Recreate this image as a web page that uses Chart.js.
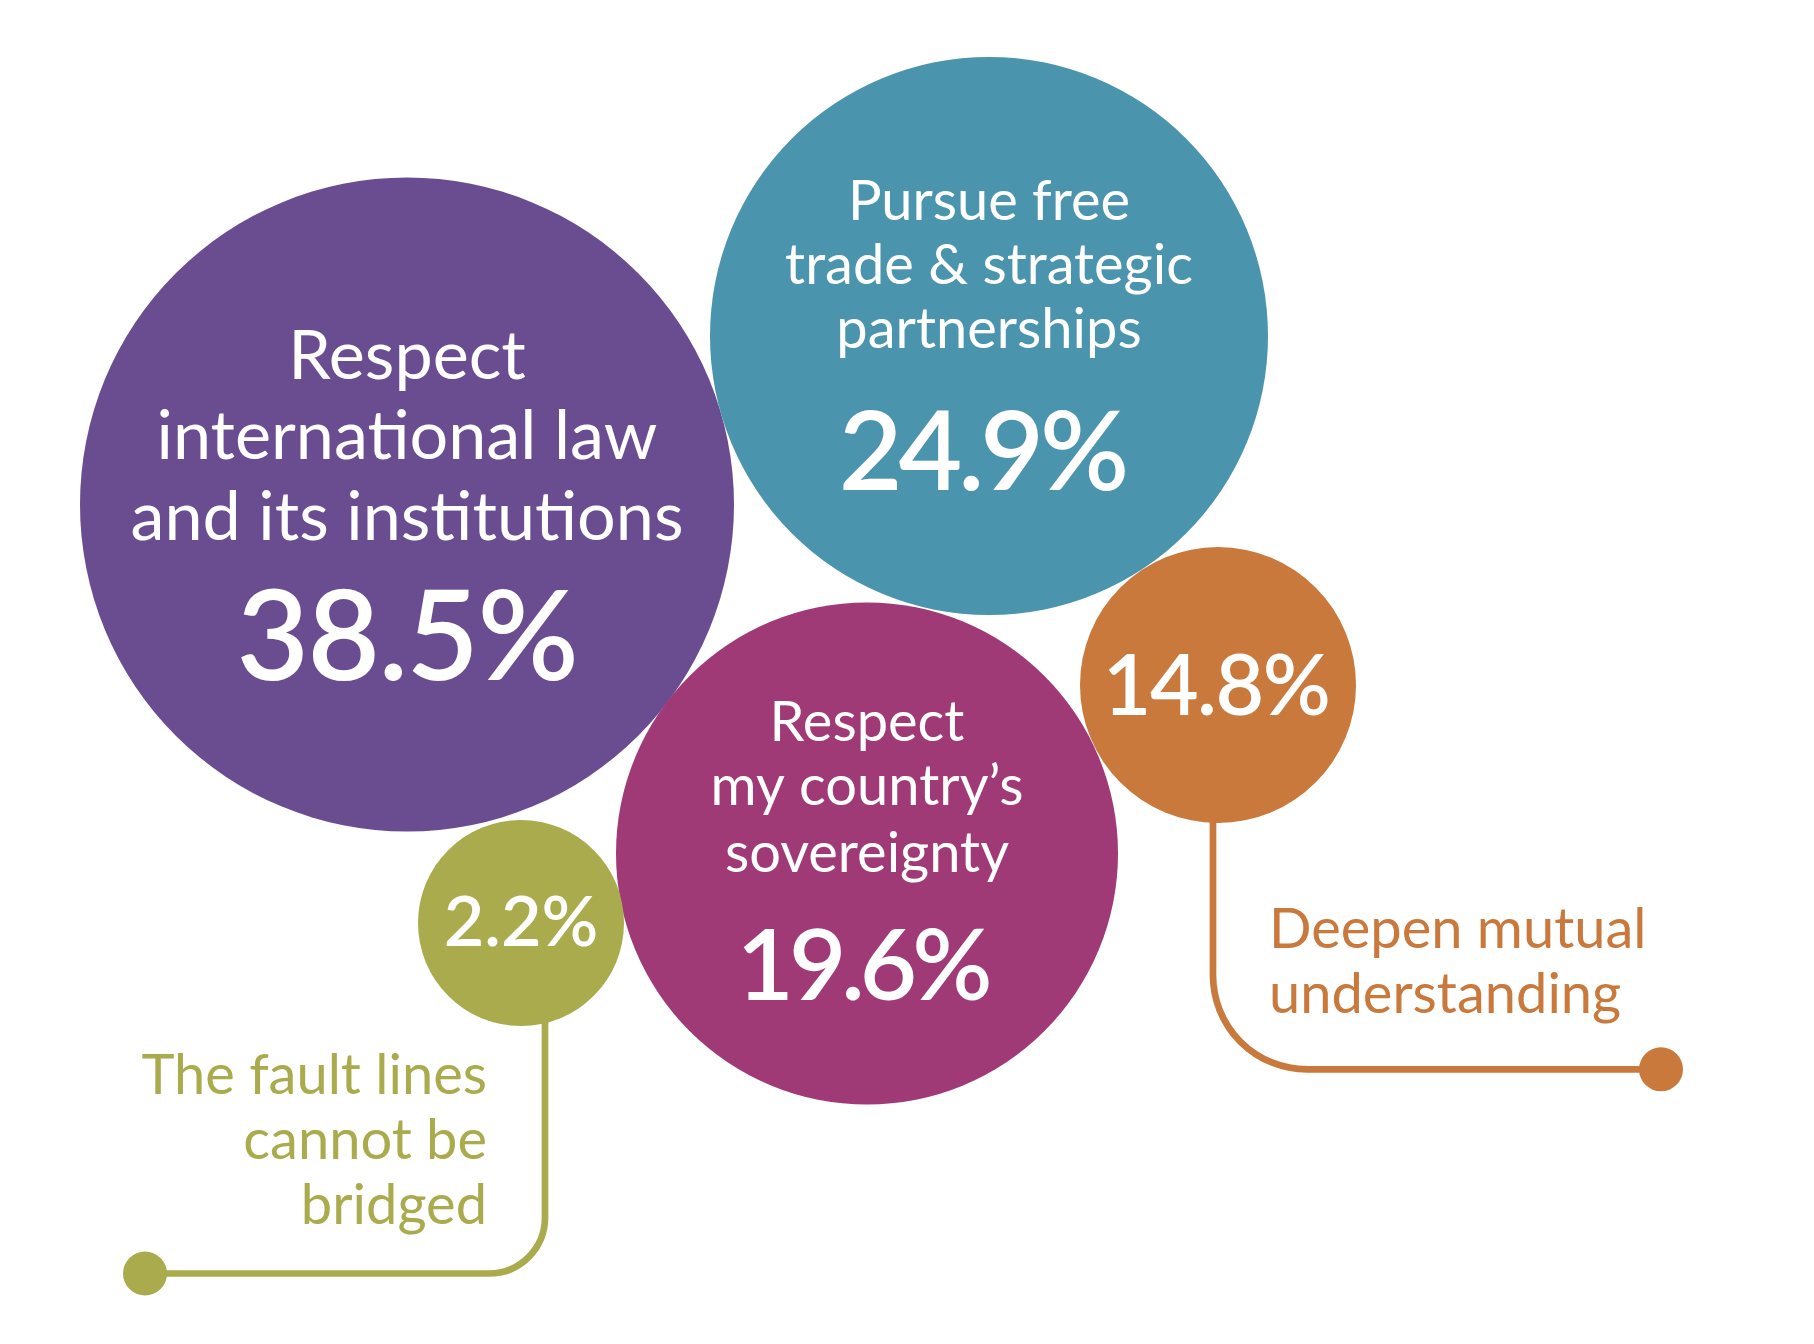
<!DOCTYPE html>
<html>
<head>
<meta charset="utf-8">
<script src="https://cdn.jsdelivr.net/npm/chart.js@4.4.1/dist/chart.umd.min.js"></script>
<style>
  html, body { margin: 0; padding: 0; background: #ffffff; }
  #wrap { width: 1814px; height: 1344px; }
  canvas { display: block; }
</style>
</head>
<body>
<div id="wrap"><canvas id="c" width="1814" height="1344"></canvas></div>
<script>
// ---------- DATA ----------
const categories = [
  "Respect international law and its institutions",
  "Pursue free trade & strategic partnerships",
  "Respect my country's sovereignty",
  "Deepen mutual understanding",
  "The fault lines cannot be bridged"
];
const values = [38.5, 24.9, 19.6, 14.8, 2.2];
const labelLines = [
  ["Respect", "international law", "and its institutions"],
  ["Pursue free", "trade & strategic", "partnerships"],
  ["Respect", "my country\u2019s", "sovereignty"],
  ["Deepen mutual", "understanding"],
  ["The fault lines", "cannot be", "bridged"]
];

// ---------- LAYOUT (positions / sizes / styles) ----------
const colors = ["#6A4C91", "#4A94AE", "#9F3A77", "#C8793B", "#A9AB4C"];
const bubbleX = [407, 989, 867, 1218, 521];
const bubbleY = [504.5, 336, 853.5, 685, 923];
const bubbleR = [327, 279, 251, 138, 103];
const inside = [true, true, true, false, false];
const labelFont = [68.3, 56, 56, 56, 56];
const labelOffsets = [[-126, -46, 35], [-116, -52, 12], [-113, -48.5, 18], [], []];
const pctFont = [125, 110, 99, 84, 70];
const pctSpacing = [-1.5, -4, -5, -1.5, 0];
const pctOffset = [175, 154, 146, 30, 23];
const pctDx = [0, -7, -5, -2, 0];
const outsideLabel = {
  3: { x: 1269, baselines: [948.3, 1012.7], align: "left" },
  4: { x: 487, baselines: [1093.7, 1159, 1224], align: "right" }
};
const connectors = {
  3: { x: 1213, y: 1069.3, endX: 1661, corner: 94 },
  4: { x: 545, y: 1273.5, endX: 145, corner: 56 }
};

const FONT = "Lato, 'Open Sans', sans-serif";

const connectorPlugin = {
  id: "connectors",
  beforeDatasetsDraw(chart) {
    const ctx = chart.ctx, xs = chart.scales.x, ys = chart.scales.y;
    ctx.save();
    Object.keys(connectors).forEach(k => {
      const i = +k, c = connectors[k];
      const x0 = xs.getPixelForValue(c.x), y0 = ys.getPixelForValue(bubbleY[i]);
      const y1 = ys.getPixelForValue(c.y), x1 = xs.getPixelForValue(c.endX);
      ctx.strokeStyle = colors[i];
      ctx.fillStyle = colors[i];
      ctx.lineWidth = 6.7;
      ctx.beginPath();
      ctx.moveTo(x0, y0);
      ctx.arcTo(x0, y1, x1, y1, c.corner);
      ctx.lineTo(x1, y1);
      ctx.stroke();
      ctx.beginPath();
      ctx.arc(x1, y1, 22, 0, Math.PI * 2);
      ctx.fill();
    });
    ctx.restore();
  }
};

const textPlugin = {
  id: "bubbleText",
  afterDatasetsDraw(chart) {
    const ctx = chart.ctx;
    const meta = chart.getDatasetMeta(0);
    const ys = chart.scales.y, xs = chart.scales.x;
    ctx.save();
    ctx.textBaseline = "alphabetic";
    meta.data.forEach((el, i) => {
      const cx = el.x, cy = el.y;
      // percentage
      ctx.fillStyle = "#ffffff";
      ctx.textAlign = "center";
      ctx.font = `600 ${pctFont[i]}px ${FONT}`;
      ctx.letterSpacing = pctSpacing[i] + "px";
      ctx.fillText(values[i].toFixed(1) + "%", cx + pctDx[i], cy + pctOffset[i]);
      ctx.letterSpacing = "0px";
      // labels
      if (inside[i]) {
        ctx.font = `400 ${labelFont[i]}px ${FONT}`;
        labelLines[i].forEach((t, j) => ctx.fillText(t, cx, cy + labelOffsets[i][j]));
      } else {
        const o = outsideLabel[i];
        ctx.fillStyle = colors[i];
        ctx.textAlign = o.align;
        ctx.font = `400 ${labelFont[i]}px ${FONT}`;
        labelLines[i].forEach((t, j) =>
          ctx.fillText(t, xs.getPixelForValue(o.x), ys.getPixelForValue(o.baselines[j])));
      }
    });
    ctx.restore();
  }
};

function draw() {
  new Chart(document.getElementById("c"), {
    type: "bubble",
    data: {
      labels: categories,
      datasets: [{
        label: "Share",
        data: values.map((v, i) => ({ x: bubbleX[i], y: bubbleY[i], r: bubbleR[i], v })),
        backgroundColor: colors,
        borderWidth: 0,
        hoverRadius: 0
      }]
    },
    options: {
      responsive: false,
      devicePixelRatio: 1,
      animation: false,
      events: [],
      layout: { padding: 0, autoPadding: false },
      clip: false,
      plugins: { legend: { display: false }, tooltip: { enabled: false } },
      scales: {
        x: { type: "linear", min: 0, max: 1814, display: false },
        y: { type: "linear", min: 0, max: 1344, reverse: true, display: false }
      }
    },
    plugins: [connectorPlugin, textPlugin]
  });
}

const fontLoads = [
  document.fonts.load("400 56px Lato"),
  document.fonts.load("600 56px Lato"),
  document.fonts.load("700 56px Lato")
];
Promise.race([Promise.all(fontLoads), new Promise(r => setTimeout(r, 1500))]).then(draw, draw);
</script>
</body>
</html>
